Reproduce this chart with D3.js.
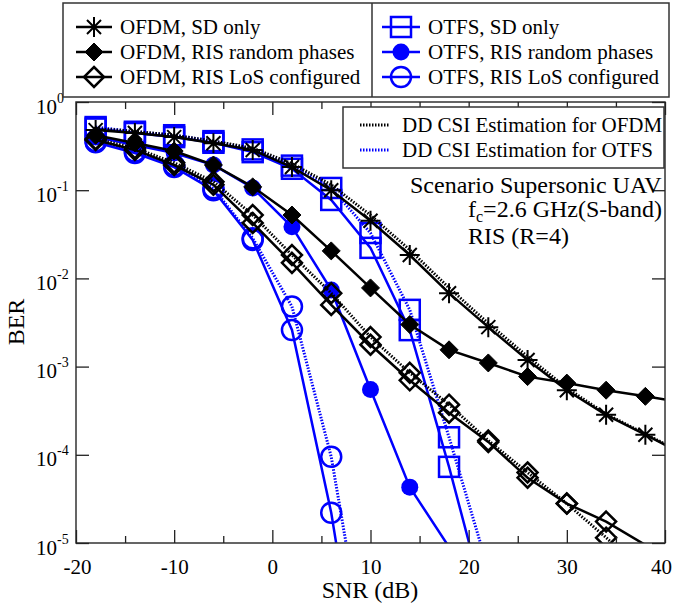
<!DOCTYPE html>
<html>
<head>
<meta charset="utf-8">
<script src="https://cdn.jsdelivr.net/npm/d3@7"></script>
<style>
  body { margin: 0; background: #fff; }
  svg, text { font-family: "Liberation Serif", "Times New Roman", serif; fill: #000; }
</style>
</head>
<body>
<div id="chart"></div>
<script>
// SNR grid (dB), shared by every curve; null = no point
const snr = [-18, -14, -10, -6, -2, 2, 6, 10, 14, 18, 22, 26, 30, 34, 38, 42]

// BER values
const ofdmSd     = [0.48, 0.445, 0.40, 0.34, 0.286, 0.183, 0.10, 0.045, 0.0184, 0.0068, 0.0028, 0.00119, 0.00054, 0.000284, 0.000169, 0.0001]
const ofdmSdEst  = [0.50, 0.465, 0.42, 0.36, 0.30, 0.20, 0.115, 0.052, 0.021, 0.0078, 0.0031, 0.0013, 0.00057, 0.00029, 0.000172, 0.000102]
const ofdmRand   = [0.42, 0.343, 0.278, 0.193, 0.109, 0.0523, 0.0205, 0.0078, 0.0030, 0.00155, 0.00110, 0.00077, 0.00065, 0.00054, 0.00046, 0.00039]
const ofdmLos    = [0.37, 0.286, 0.193, 0.115, 0.0425, 0.0150, 0.0050, 0.00177, 0.00070, 0.00030, 0.00014, 0.000055, 0.000028, 0.0000175, 0.0000095, 0.0000052]
const ofdmLosEst = [0.38, 0.30, 0.205, 0.125, 0.0523, 0.0184, 0.0068, 0.00216, 0.00085, 0.00037, 0.000145, 0.000063, 0.000028, 0.0000115, 0.0000045, null]
const otfsSd     = [0.50, 0.445, 0.40, 0.345, 0.27, 0.175, 0.0775, 0.0222, 0.00259, 0.000073, 0.0000015, null, null, null, null, null]
const otfsSdEst  = [0.52, 0.46, 0.42, 0.36, 0.29, 0.19, 0.106, 0.0327, 0.0044, 0.000158, 0.000005, null, null, null, null, null]
const otfsRand   = [0.40, 0.325, 0.264, 0.193, 0.106, 0.0385, 0.0074, 0.00055, 0.000043, 0.000009, null, null, null, null, null, null]
const otfsLos    = [0.35, 0.264, 0.183, 0.10, 0.0273, 0.0026, 0.000022, 0.00000004, null, null, null, null, null, null, null, null]
const otfsLosEst = [0.36, 0.275, 0.19, 0.105, 0.0285, 0.0048, 0.000095, 0.00000024, null, null, null, null, null, null, null, null]

const xTicks = [-20, -10, 0, 10, 20, 30, 40]
const xMinor = [-15, -5, 5, 15, 25, 35]
const yTicks = [1, 1e-1, 1e-2, 1e-3, 1e-4, 1e-5]

const legendTop = ["OFDM, SD only", "OFDM, RIS random phases", "OFDM, RIS LoS configured",
                   "OTFS, SD only", "OTFS, RIS random phases", "OTFS, RIS LoS configured"]
const legendEst = ["DD CSI Estimation for OFDM", "DD CSI Estimation for OTFS"]

const W = 674, H = 605
const pLeft = 76, pRight = 665, pTop = 102, pBottom = 543
const BLUE = "#0000ff"
const SERIF = "Liberation Serif, Times New Roman, serif"

var x = d3.scaleLinear().domain([-20, 40]).range([pLeft, pRight])
var y = d3.scaleLog().domain([1e-5, 1]).range([pBottom, pTop])

var svg = d3.select("#chart").append("svg").attr("width", W).attr("height", H)

svg.append("clipPath").attr("id", "clip").append("rect")
    .attr("x", pLeft).attr("y", pTop).attr("width", pRight - pLeft).attr("height", pBottom - pTop)

// marker shapes
function drawMarker(g, kind, color) {
    if (kind == "star") {
        g.append("path").attr("d", "M-10,0H10M0,-10V10M-7,-7L7,7M-7,7L7,-7")
            .attr("stroke", color).attr("stroke-width", 2).attr("fill", "none")
    } else if (kind == "dfill") {
        g.append("path").attr("d", "M0,-9L9,0L0,9L-9,0Z").attr("fill", color).attr("stroke", color).attr("stroke-width", 1)
    } else if (kind == "dopen") {
        g.append("path").attr("d", "M0,-10L10,0L0,10L-10,0Z").attr("fill", "none").attr("stroke", color).attr("stroke-width", 2.5)
    } else if (kind == "square") {
        g.append("rect").attr("x", -10).attr("y", -10).attr("width", 20).attr("height", 20)
            .attr("fill", "none").attr("stroke", color).attr("stroke-width", 2.5)
    } else if (kind == "cfill") {
        g.append("circle").attr("r", 8.5).attr("fill", color)
    } else if (kind == "copen") {
        g.append("circle").attr("r", 10).attr("fill", "none").attr("stroke", color).attr("stroke-width", 2.5)
    }
}

var series = [
    {v: otfsLosEst, color: BLUE, dash: "1.5,1.5", marker: "copen"},
    {v: otfsSdEst, color: BLUE, dash: "1.5,1.5", marker: "square"},
    {v: otfsLos, color: BLUE, dash: null, marker: "copen"},
    {v: otfsSd, color: BLUE, dash: null, marker: "square"},
    {v: otfsRand, color: BLUE, dash: null, marker: "cfill"},
    {v: ofdmLosEst, color: "#000", dash: "1.5,1.5", marker: "dopen"},
    {v: ofdmSdEst, color: "#000", dash: "1.5,1.5", marker: null},
    {v: ofdmLos, color: "#000", dash: null, marker: "dopen"},
    {v: ofdmRand, color: "#000", dash: null, marker: "dfill"},
    {v: ofdmSd, color: "#000", dash: null, marker: "star"}
]

var line = d3.line()
    .defined(d => d.ber != null)
    .x(d => x(d.snr))
    .y(d => y(d.ber))

var plot = svg.append("g").attr("clip-path", "url(#clip)")

series.forEach(function (s) {
    var pts = snr.map((d, i) => ({snr: d, ber: s.v[i]}))
    plot.append("path").datum(pts).attr("d", line)
        .attr("fill", "none").attr("stroke", s.color)
        .attr("stroke-width", s.dash ? 3 : 2.5)
        .attr("stroke-dasharray", s.dash)
    if (s.marker) {
        pts.filter(d => d.ber != null && d.ber >= 1e-5 && d.snr <= 40).forEach(function (d) {
            var g = plot.append("g").attr("transform", "translate(" + x(d.snr) + "," + y(d.ber) + ")")
            drawMarker(g, s.marker, s.color)
        })
    }
})

// frame
svg.append("rect").attr("x", pLeft).attr("y", pTop).attr("width", pRight - pLeft).attr("height", pBottom - pTop)
    .attr("fill", "none").attr("stroke", "#333").attr("stroke-width", 1.5)

// axes (ticks point inward)
var xAxis = svg.append("g").attr("transform", "translate(0," + pBottom + ")")
    .call(d3.axisBottom(x).tickValues(xTicks).tickSize(-13).tickPadding(16).tickFormat(d => String(d)))
var xAxisMinor = svg.append("g").attr("transform", "translate(0," + pBottom + ")")
    .call(d3.axisBottom(x).tickValues(xMinor).tickSize(-7).tickFormat(""))
var xTop = svg.append("g").attr("transform", "translate(0," + pTop + ")")
    .call(d3.axisTop(x).tickValues(xTicks).tickSize(-13).tickFormat(""))
var xTopMinor = svg.append("g").attr("transform", "translate(0," + pTop + ")")
    .call(d3.axisTop(x).tickValues(xMinor).tickSize(-7).tickFormat(""))
var yAxis = svg.append("g").attr("transform", "translate(" + pLeft + ",0)")
    .call(d3.axisLeft(y).tickValues(yTicks).tickSize(-13).tickFormat(""))
var yRight = svg.append("g").attr("transform", "translate(" + pRight + ",0)")
    .call(d3.axisRight(y).tickValues(yTicks).tickSize(-13).tickFormat(""))

;[xAxis, xAxisMinor, xTop, xTopMinor, yAxis, yRight].forEach(function (a) {
    a.attr("font-family", SERIF)
    a.select(".domain").remove()
    a.selectAll(".tick line").attr("stroke", "#222").attr("stroke-width", 1.3)
})
xAxis.selectAll(".tick text").style("font-family", SERIF).style("font-size", "21px").attr("fill", "#000")
    .attr("dx", d => d == 40 ? -4 : d == -20 ? 1 : 0)

// y labels 10^n
yAxis.selectAll(".tick").each(function (d) {
    var t = d3.select(this)
    var e = Math.round(Math.log10(d))
    t.append("text").attr("x", -19).attr("y", 11).attr("text-anchor", "end")
        .style("font-size", "21px").style("font-family", SERIF).attr("fill", "#000").text("10")
    t.append("text").attr("x", -19).attr("y", 0).attr("text-anchor", "start")
        .style("font-size", "14px").style("font-family", SERIF).attr("fill", "#000").text(e)
})

// axis titles
svg.append("text").attr("x", 370).attr("y", 598).attr("text-anchor", "middle").style("font-size", "24px").text("SNR (dB)")
svg.append("text").attr("transform", "translate(24,322) rotate(-90)").attr("text-anchor", "middle").style("font-size", "24px").text("BER")

// annotation
svg.append("text").attr("x", 410).attr("y", 193).style("font-size", "24px").text("Scenario Supersonic UAV")
var fc = svg.append("text").attr("x", 468).attr("y", 217).style("font-size", "24px")
fc.append("tspan").text("f")
fc.append("tspan").attr("dy", 5).style("font-size", "16px").text("c")
fc.append("tspan").attr("dy", -5).text("=2.6 GHz(S-band)")
svg.append("text").attr("x", 468).attr("y", 244).style("font-size", "24px").text("RIS (R=4)")

// top legend
svg.append("rect").attr("x", 63).attr("y", 3).attr("width", 606).attr("height", 94)
    .attr("fill", "#fff").attr("stroke", "#333").attr("stroke-width", 1.5)
svg.append("line").attr("x1", 372).attr("x2", 372).attr("y1", 3).attr("y2", 97).attr("stroke", "#333").attr("stroke-width", 1.5)

var legMarkers = ["star", "dfill", "dopen", "square", "cfill", "copen"]
var rowY = [27, 52, 77]
legendTop.forEach(function (label, i) {
    var col = i < 3 ? 0 : 1
    var x0 = col == 0 ? 76 : 382, x1 = col == 0 ? 112 : 420
    var color = col == 0 ? "#000" : BLUE
    var yy = rowY[i % 3]
    svg.append("line").attr("x1", x0).attr("x2", x1).attr("y1", yy).attr("y2", yy).attr("stroke", color).attr("stroke-width", 2.5)
    drawMarker(svg.append("g").attr("transform", "translate(" + ((x0 + x1) / 2) + "," + yy + ")"), legMarkers[i], color)
    svg.append("text").attr("x", x1 + 8).attr("y", yy).attr("dy", "0.35em").style("font-size", "21px").text(label)
})

// estimation legend
svg.append("rect").attr("x", 343).attr("y", 107).attr("width", 321).attr("height", 61)
    .attr("fill", "#fff").attr("stroke", "#333").attr("stroke-width", 1.5)
legendEst.forEach(function (label, i) {
    var yy = 125 + i * 25
    var color = i == 0 ? "#000" : BLUE
    svg.append("line").attr("x1", 360).attr("x2", 390).attr("y1", yy).attr("y2", yy)
        .attr("stroke", color).attr("stroke-width", 3).attr("stroke-dasharray", "1.5,1.5")
    svg.append("text").attr("x", 402).attr("y", yy).attr("dy", "0.35em").style("font-size", "21px").text(label)
})
</script>
</body>
</html>
